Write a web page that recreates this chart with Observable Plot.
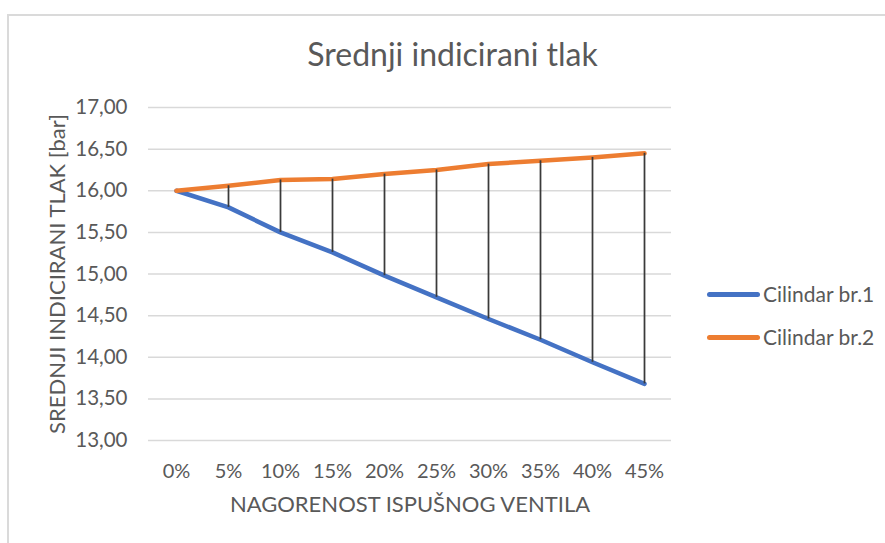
<!DOCTYPE html>
<html>
<head>
<meta charset="utf-8">
<script src="https://cdn.jsdelivr.net/npm/d3@7"></script>
<script src="https://cdn.jsdelivr.net/npm/@observablehq/plot@0.6"></script>
<style>
  html, body { margin: 0; padding: 0; background: #fff; overflow: hidden; }
  #wrap { position: relative; width: 885px; height: 543px; font-family: Lato, "Open Sans", sans-serif; color: #595959; }
  #frame { position: absolute; left: 7px; top: 14px; width: 900px; height: 600px; border-left: 2px solid #dadada; border-top: 2px solid #dadada; }
  #title { position: absolute; left: 0; width: 905px; top: 38px; text-align: center; font-size: 32px; line-height: 32px; white-space: nowrap; }
  #chart { position: absolute; left: 0; top: 0; }
  .leg { position: absolute; left: 707px; height: 21px; }
  .leg .sw { position: absolute; left: 0; width: 53px; height: 5px; border-radius: 3px; }
  .leg .lb { position: absolute; left: 56px; top: 0; font-size: 21px; line-height: 21px; white-space: nowrap; }
</style>
</head>
<body>
<div id="wrap">
  <div id="frame"></div>
  <div id="chart"></div>
  <div id="title"></div>
  <div id="legend"></div>
</div>
<script>
const titleText = "Srednji indicirani tlak";
const xTitle = "NAGORENOST ISPUŠNOG VENTILA";
const yTitle = "SREDNJI INDICIRANI TLAK [bar]";
const categories = ["0%", "5%", "10%", "15%", "20%", "25%", "30%", "35%", "40%", "45%"];
const cylinder1 = [16.00, 15.80, 15.50, 15.26, 14.98, 14.72, 14.46, 14.21, 13.94, 13.68];
const cylinder2 = [16.00, 16.06, 16.13, 16.14, 16.20, 16.25, 16.32, 16.36, 16.40, 16.45];
const yTicks = [13.0, 13.5, 14.0, 14.5, 15.0, 15.5, 16.0, 16.5, 17.0];
const seriesNames = ["Cilindar br.1", "Cilindar br.2"];
const seriesColors = ["#4472C4", "#ED7D31"];

const rows1 = categories.map((c, i) => ({cat: c, value: cylinder1[i]}));
const rows2 = categories.map((c, i) => ({cat: c, value: cylinder2[i]}));
const pairs = categories.map((c, i) => ({cat: c, lo: cylinder1[i], hi: cylinder2[i]}));

const chart = Plot.plot({
  width: 885,
  height: 543,
  marginLeft: 148,
  marginRight: 214,
  marginTop: 107,
  marginBottom: 103,
  style: {fontFamily: "Lato, 'Open Sans', sans-serif", color: "#595959", background: "transparent", overflow: "visible"},
  x: {type: "point", domain: categories, padding: 0.5, label: null},
  y: {domain: [13, 17], label: null},
  marks: [
    Plot.ruleY(yTicks, {stroke: "#d9d9d9", strokeWidth: 1.5}),
    Plot.axisY({ticks: yTicks, tickSize: 0, tickPadding: 21, fontSize: 20.5, label: null,
      tickFormat: d => d.toFixed(2).replace(".", ",")}),
    Plot.axisX({tickSize: 0, tickPadding: 23, fontSize: 20, label: null}),
    Plot.line(rows1, {x: "cat", y: "value", stroke: seriesColors[0], strokeWidth: 4.5, strokeLinecap: "round", strokeLinejoin: "round"}),
    Plot.line(rows2, {x: "cat", y: "value", stroke: seriesColors[1], strokeWidth: 4.5, strokeLinecap: "round", strokeLinejoin: "round"}),
    Plot.ruleX(pairs, {x: "cat", y1: "lo", y2: "hi", stroke: "#3a3a3a", strokeWidth: 1.75}),
    Plot.text([xTitle], {frameAnchor: "bottom", textAnchor: "middle", lineAnchor: "middle", dx: 0, dy: 64, fontSize: 22, fill: "#595959"}),
    Plot.text([yTitle], {frameAnchor: "left", textAnchor: "middle", lineAnchor: "middle", dx: -91, rotate: -90, fontSize: 22, fill: "#595959"})
  ]
});
document.getElementById("chart").appendChild(chart);
document.getElementById("title").textContent = titleText;

const legend = document.getElementById("legend");
const legendY = [294, 337];
seriesNames.forEach((name, i) => {
  const item = document.createElement("div");
  item.className = "leg";
  item.style.top = (legendY[i] - 11) + "px";
  const sw = document.createElement("div");
  sw.className = "sw";
  sw.style.background = seriesColors[i];
  sw.style.top = "8.5px";
  const lb = document.createElement("div");
  lb.className = "lb";
  lb.textContent = name;
  item.appendChild(sw);
  item.appendChild(lb);
  legend.appendChild(item);
});
</script>
</body>
</html>
